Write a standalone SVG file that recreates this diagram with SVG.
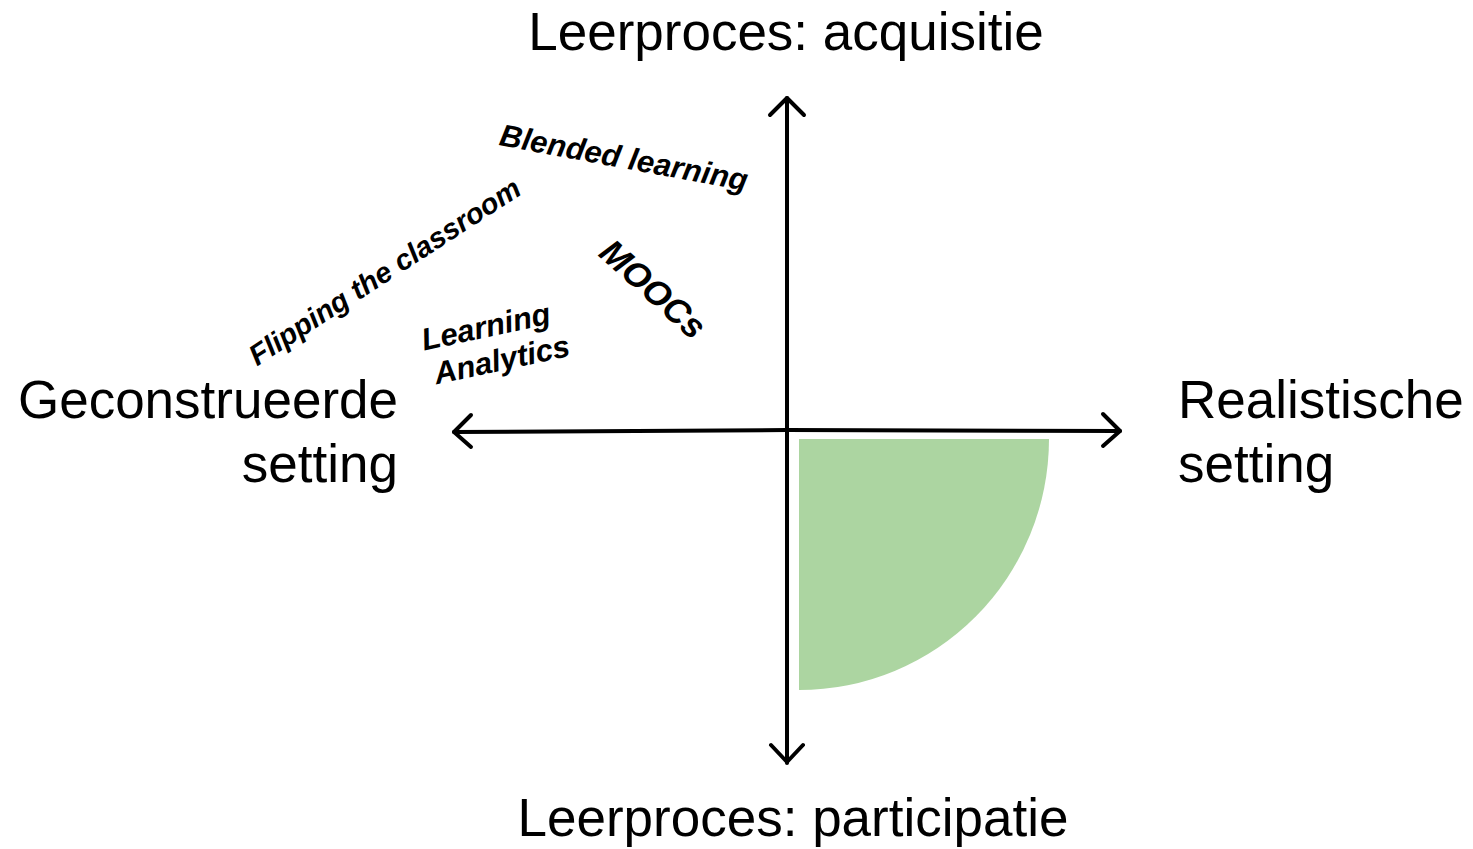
<svg xmlns="http://www.w3.org/2000/svg" width="1473" height="849" viewBox="0 0 1473 849">
<style>
.axis{fill:none;stroke:#000;stroke-width:4;stroke-linecap:round;stroke-linejoin:round}
.big{font-family:"Liberation Sans",Arial,sans-serif;font-size:53px;fill:#000}
.lab{font-family:"Liberation Sans",Arial,sans-serif;font-size:31px;font-weight:bold;font-style:italic;fill:#000;text-anchor:middle}
</style>
<rect width="1473" height="849" fill="#fff"/>
<g id="area"><path d="M799,439 H1049 A250,251 0 0 1 799,690 Z" fill="#acd5a1"/></g>
<g id="connectors">
<path class="axis" d="M787,763 V98"/>
<path class="axis" d="M770,115 L787,98 L804,115"/>
<path class="axis" d="M771,745 L787,762 L803,745"/>
<path class="axis" d="M454,432 L787,430 L1120,431"/>
<path class="axis" d="M471,415 L454,432 L471,447"/>
<path class="axis" d="M1103,414 L1120,431 L1103,446"/>
</g>
<g id="top"><text class="big" x="786" y="50" text-anchor="middle">Leerproces: acquisitie</text></g>
<g id="bottom"><text class="big" x="793" y="836" text-anchor="middle">Leerproces: participatie</text></g>
<g id="left"><text class="big" x="398" y="418" text-anchor="end">Geconstrueerde</text><text class="big" x="398" y="482" text-anchor="end">setting</text></g>
<g id="right"><text class="big" x="1178" y="418">Realistische</text><text class="big" x="1178" y="482">setting</text></g>
<g id="blended"><text class="lab" transform="translate(622,168) rotate(10.5)">Blended learning</text></g>
<g id="flipping"><text class="lab" style="font-size:29px" transform="translate(390,280) rotate(-33)">Flipping the classroom</text></g>
<g id="moocs"><text class="lab" style="font-size:35px" transform="translate(645,298) rotate(42)">MOOCs</text></g>
<g id="la"><text class="lab" transform="translate(488,337) rotate(-12)">Learning</text><text class="lab" transform="translate(504,370) rotate(-12)">Analytics</text></g>
</svg>
